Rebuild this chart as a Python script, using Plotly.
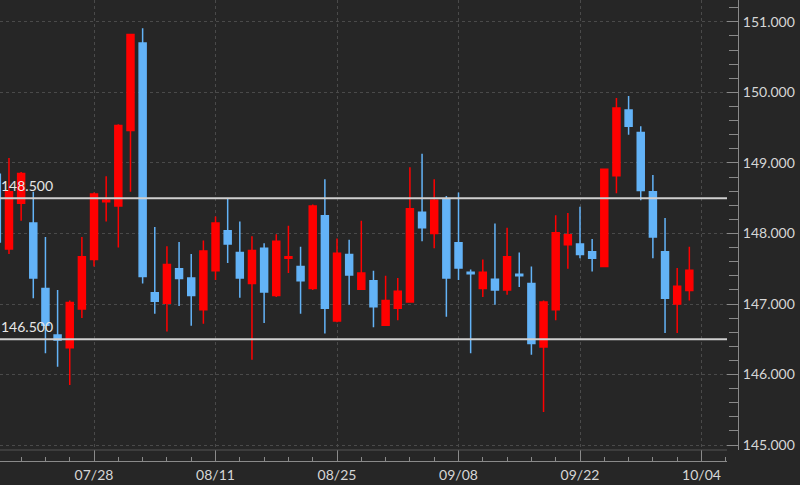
import plotly.graph_objects as go

# trading-day offsets relative to 07/28 (0)
day_index = list(range(-8, 50))

opens = [148.84, 147.78, 148.43, 148.15, 147.22, 146.56, 146.38, 146.93,
         147.63, 148.45, 148.39, 149.46, 150.70, 147.16, 147.01, 147.50, 147.37, 146.92,
         147.47, 148.04, 147.73, 147.29, 147.79, 147.12, 147.65, 147.53, 147.22, 148.25,
         146.76, 147.70, 147.21, 147.33, 146.70, 146.94, 147.03, 148.30, 148.00, 148.48,
         147.87, 147.45, 147.22, 147.35, 147.20, 147.42, 147.29, 146.39, 146.92, 147.84,
         147.85, 147.74, 147.53, 148.82, 149.75, 149.43, 148.59, 147.74, 147.00, 147.19]
highs = [148.95, 149.07, 148.87, 148.59, 147.95, 147.20, 147.05, 147.95,
         148.58, 148.81, 149.55, 150.83, 150.91, 148.09, 147.82, 147.88, 147.71, 147.90,
         148.24, 148.50, 148.17, 147.96, 147.86, 147.99, 148.11, 147.81, 148.41, 148.77,
         147.93, 147.91, 148.18, 147.47, 147.40, 147.37, 148.94, 149.13, 148.77, 148.53,
         148.58, 147.49, 147.63, 148.14, 148.08, 147.73, 147.53, 147.05, 148.26, 148.29,
         148.38, 147.92, 148.92, 149.92, 149.95, 149.52, 148.83, 148.22, 147.51, 147.81]
lows = [147.80, 147.71, 148.18, 147.08, 146.30, 146.11, 145.85, 146.80,
        147.53, 148.17, 147.80, 148.59, 147.29, 146.86, 146.61, 146.97, 146.69, 146.72,
        147.34, 147.58, 147.09, 146.21, 146.73, 147.10, 147.44, 146.86, 147.20, 146.58,
        146.74, 146.99, 147.20, 146.67, 146.69, 146.77, 147.02, 147.89, 147.79, 146.82,
        147.34, 146.30, 147.10, 146.99, 147.13, 147.24, 146.28, 145.47, 146.77, 147.50,
        147.65, 147.46, 147.52, 148.57, 149.40, 148.47, 147.65, 146.59, 146.59, 147.05]
closes = [147.88, 148.59, 148.85, 147.37, 146.70, 146.49, 147.02, 147.67,
          148.56, 148.47, 149.53, 150.82, 147.39, 147.04, 147.56, 147.36, 147.12, 147.75,
          148.15, 147.85, 147.37, 147.76, 147.17, 147.89, 147.67, 147.33, 148.39, 146.94,
          147.72, 147.41, 147.44, 146.96, 147.05, 147.18, 148.35, 148.08, 148.47, 147.37,
          147.51, 147.43, 147.45, 147.20, 147.67, 147.40, 146.44, 147.03, 148.01, 147.98,
          147.70, 147.65, 148.91, 149.78, 149.52, 148.61, 147.95, 147.08, 147.25, 147.48]

tick_positions = [0, 10, 20, 30, 40, 50]
tick_labels = ["07/28", "08/11", "08/25", "09/08", "09/22", "10/04"]
y_ticks = [145, 146, 147, 148, 149, 150, 151]
level_lines = [148.5, 146.5]

BG = "#262626"
RED = "#ff0000"
BLUE = "#63b3f7"
TXT = "#d6d6d6"
GRID = "#4a4a4a"
FONT = "Lato"

fig = go.Figure()
fig.add_trace(go.Candlestick(
    x=day_index, open=opens, high=highs, low=lows, close=closes,
    increasing=dict(line=dict(color=RED, width=1.5), fillcolor=RED),
    decreasing=dict(line=dict(color=BLUE, width=1.5), fillcolor=BLUE),
    whiskerwidth=0, hoverinfo="skip", showlegend=False,
))

W, H = 800, 485
plot_w = 738
x_dom_end = 727 / plot_w
plot_h = 461
y_dom_start = (461 - 450) / plot_h

for lv in level_lines:
    fig.add_shape(type="line", xref="x domain", yref="y", x0=0, x1=1, y0=lv, y1=lv,
                  line=dict(color="#cfcfcf", width=2), layer="above")
    fig.add_annotation(xref="paper", yref="y", x=0, y=lv, text=f"{lv:.3f}",
                       showarrow=False, xanchor="left", yanchor="bottom", yshift=2, xshift=-1,
                       font=dict(family=FONT, size=14, color="#e6e6e6"))

# bottom frame line of plotting region
fig.add_shape(type="line", xref="x domain", yref="y domain", x0=0, x1=1, y0=0, y1=0,
              line=dict(color="#555555", width=1))

fig.update_layout(
    width=W, height=H,
    margin=dict(l=0, r=W - plot_w, t=0, b=H - plot_h, pad=0, autoexpand=False),
    paper_bgcolor=BG, plot_bgcolor=BG,
    boxgap=0.18,
    font=dict(family=FONT, color=TXT, size=14),
    xaxis=dict(
        domain=[0, x_dom_end], anchor="free", position=0, automargin=False,
        range=[-7.74, 52.1], rangeslider=dict(visible=False),
        tickmode="array", tickvals=tick_positions, ticktext=tick_labels,
        ticks="inside", ticklen=11, tickcolor="#8a8a8a", tickwidth=1,
        showline=True, linecolor="#8a8a8a", linewidth=1,
        showgrid=True, gridcolor=GRID, griddash="3px,3px", gridwidth=1,
        zeroline=False, ticklabelstandoff=1,
        minor=dict(dtick=2, tick0=0, ticks="inside", ticklen=4, tickcolor="#8a8a8a",
                   showgrid=False),
        tickfont=dict(family=FONT, size=14, color=TXT),
    ),
    yaxis=dict(
        domain=[y_dom_start, 1], side="right", anchor="free", position=1, automargin=False,
        range=[144.93, 151.31],
        tickmode="array", tickvals=y_ticks, tickformat=".3f",
        ticks="inside", ticklen=11, tickcolor="#8a8a8a",
        showline=True, linecolor="#8a8a8a", linewidth=1,
        showgrid=True, gridcolor=GRID, griddash="3px,3px", gridwidth=1,
        zeroline=False, ticklabelstandoff=1,
        minor=dict(dtick=0.2, tick0=145, ticks="inside", ticklen=9, tickcolor="#8a8a8a",
                   showgrid=False),
        tickfont=dict(family=FONT, size=14, color=TXT),
    ),
)

fig.write_html("out.html",
               config={"displayModeBar": False},
               post_script="document.body.style.margin='0';document.body.style.background='#262626';")
